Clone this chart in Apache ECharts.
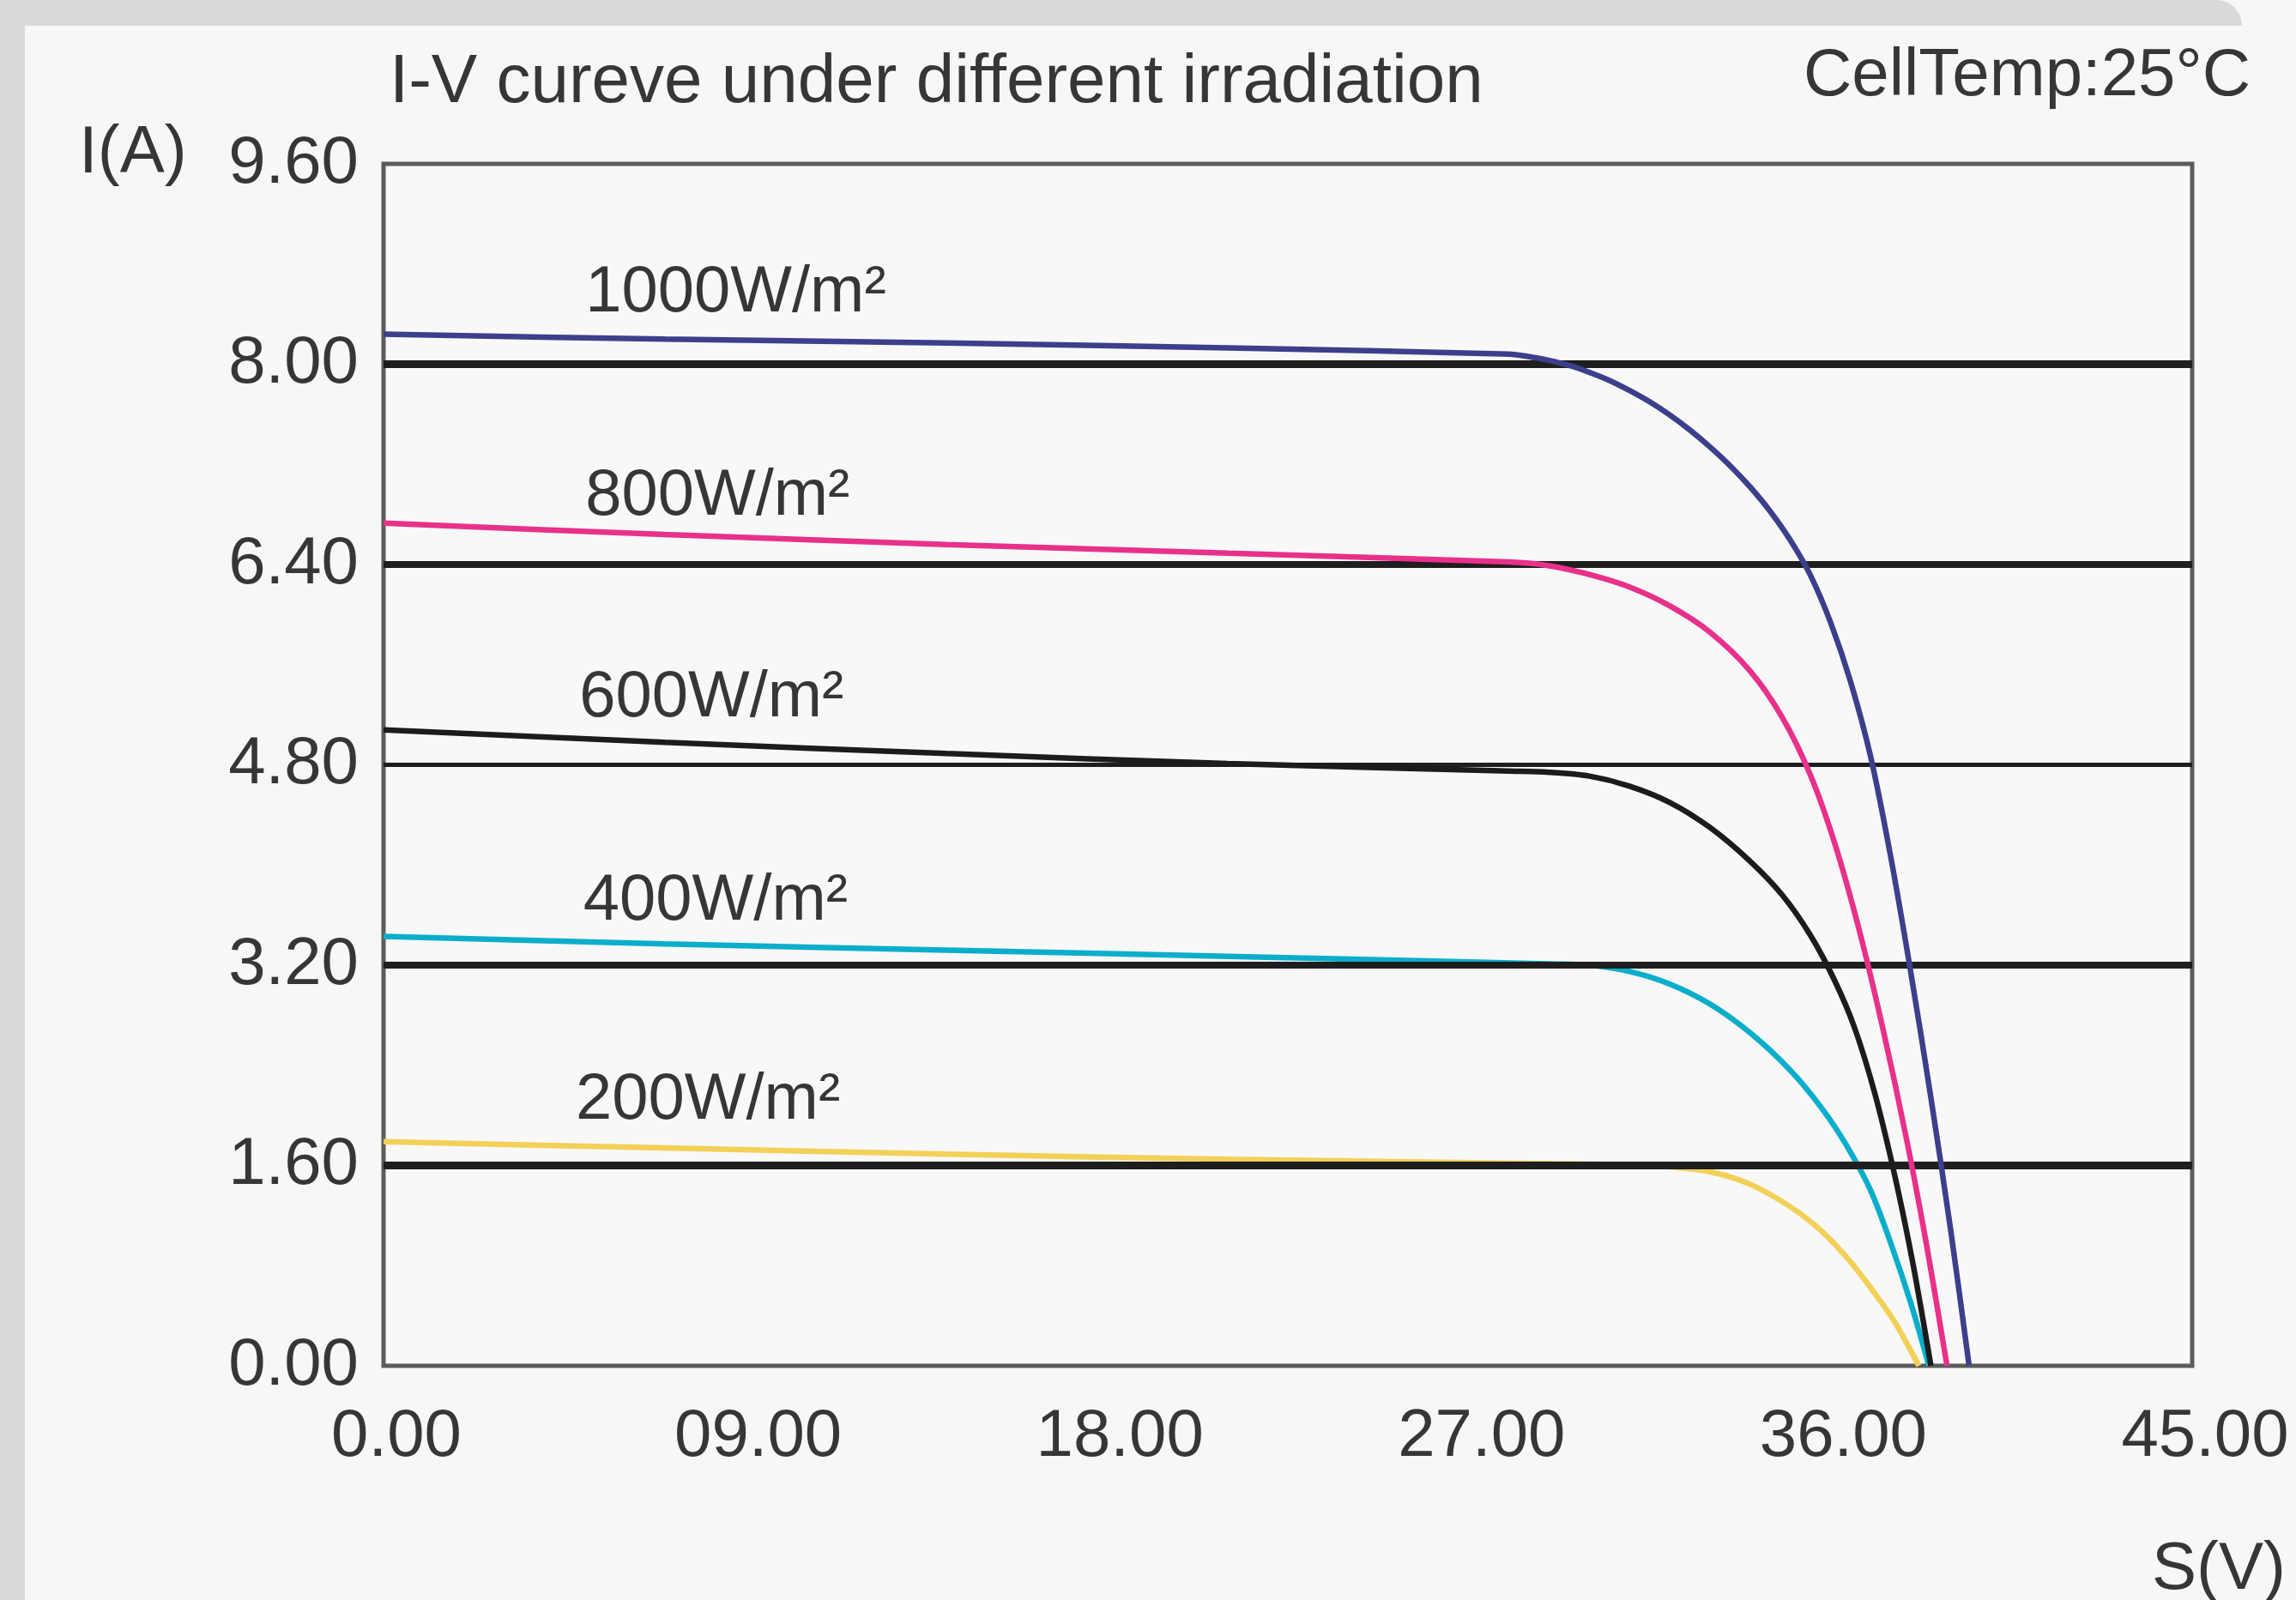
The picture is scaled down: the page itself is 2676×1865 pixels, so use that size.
<!DOCTYPE html>
<html>
<head>
<meta charset="utf-8">
<script src="https://cdn.jsdelivr.net/npm/echarts/dist/echarts.min.js"></script>
<style>
  html, body { margin: 0; padding: 0; background: #f7f7f7; }
  #chart { width: 2676px; height: 1865px; }
</style>
</head>
<body>
<div id="chart"></div>
<script>
// ---- data ----
const seriesNames = ['1000W/m²', '800W/m²', '600W/m²', '400W/m²', '200W/m²'];
const seriesColors = ['#3c3f8b', '#e8318a', '#1c1c1c', '#0aaecb', '#f3d058'];

// [voltage V, current A]
const iv1000 = [[0,8.24],[7,8.20],[14,8.17],[21,8.13],[28,8.08],[28.5,8.06],[29,8.03],[29.5,7.99],[30,7.935],[30.5,7.87],[31,7.79],[31.5,7.70],[32,7.595],[32.5,7.475],[33,7.34],[33.5,7.19],[34,7.02],[34.5,6.825],[35,6.595],[35.5,6.315],[36,5.94],[36.5,5.465],[37,4.865],[37.5,4.065],[38,3.14],[38.5,2.14],[39,1.065],[39.45,0]];
const iv800 = [[0,6.73],[7,6.64],[14,6.56],[21,6.49],[28,6.42],[29,6.39],[30,6.32],[31,6.22],[32,6.07],[33,5.86],[34,5.55],[34.8,5.18],[35.5,4.72],[36.1,4.18],[36.7,3.50],[37.3,2.70],[37.9,1.80],[38.4,0.95],[38.9,0]];
const iv600 = [[0,5.08],[7,4.98],[14,4.89],[21,4.81],[28,4.75],[29,4.74],[30,4.71],[31,4.63],[32,4.50],[33,4.30],[34,4.03],[34.8,3.76],[35.5,3.44],[36.1,3.08],[36.6,2.70],[37.1,2.18],[37.6,1.52],[38.05,0.82],[38.5,0]];
const iv400 = [[0,3.43],[7,3.37],[14,3.32],[21,3.27],[29,3.21],[30,3.20],[31,3.15],[32,3.05],[33,2.89],[34,2.66],[35,2.36],[35.8,2.05],[36.4,1.76],[37.0,1.40],[37.5,0.98],[38.0,0.50],[38.45,0]];
const iv200 = [[0,1.79],[7,1.74],[14,1.69],[21,1.65],[30,1.61],[31,1.605],[32,1.59],[33,1.55],[34,1.45],[35,1.27],[35.8,1.07],[36.5,0.83],[37.1,0.58],[37.6,0.35],[37.95,0.15],[38.2,0]];

// label anchors (V, I) for the irradiation labels
const labelAnchors = [[5.02,8.565],[5.02,6.94],[4.87,5.33],[4.97,3.71],[4.78,2.12]];

const xTickLabels = ['0.00','09.00','18.00','27.00','36.00','45.00'];
const yTickLabels = ['0.00','1.60','3.20','4.80','6.40','8.00','9.60'];
const gridLevels = [1.6, 3.2, 4.8, 6.4, 8.0];

const titleText = 'I-V cureve under different irradiation';
const tempText = 'CellTemp:25°C';
const yName = 'I(A)';
const xName = 'S(V)';

// ---- chart ----
const FONT = "'Liberation Sans', Arial, sans-serif";
const TXT = '#363636';
const curves = [iv1000, iv800, iv600, iv400, iv200];
const gridWidths = [9, 8, 5, 8, 9];

const chart = echarts.init(document.getElementById('chart'), null, { renderer: 'canvas' });

const series = [];
series.push({
  type: 'line', data: [[0,0]], symbol: 'none', lineStyle: { width: 0, opacity: 0 },
  silent: true, z: 1,
  markLine: {
    silent: true, symbol: 'none', label: { show: false },
    data: gridLevels.map((v, i) => ({ yAxis: v, lineStyle: { color: '#1e1e1e', width: gridWidths[i], type: 'solid' } }))
  }
});
curves.forEach((d, i) => {
  series.push({
    name: seriesNames[i], type: 'line', data: d, symbol: 'none',
    smooth: 0.3, z: 3 + (4 - i),
    lineStyle: { color: seriesColors[i], width: 6.5 },
    markPoint: {
      silent: true, symbol: 'circle', symbolSize: 0, animation: false,
      itemStyle: { color: 'rgba(0,0,0,0)', opacity: 1 },
      data: [{ coord: labelAnchors[i], name: seriesNames[i] }],
      label: {
        show: true, position: 'right', distance: 0,
        formatter: seriesNames[i],
        fontSize: 76, fontFamily: FONT, color: '#363636', opacity: 1
      }
    }
  });
});

chart.setOption({
  backgroundColor: '#f7f7f7',
  animation: false,
  grid: { left: 447, top: 191, width: 2108, height: 1401, show: true, borderColor: '#5c5c5c', borderWidth: 5, backgroundColor: '#f8f8f8', containLabel: false },
  xAxis: {
    type: 'value', min: 0, max: 45, interval: 9,
    axisLine: { show: false }, axisTick: { show: false }, splitLine: { show: false },
    axisLabel: { formatter: (v) => xTickLabels[Math.round(v / 9)], fontSize: 78, fontFamily: FONT, color: TXT, margin: 44, padding: [0, 0, 0, 30] }
  },
  yAxis: {
    type: 'value', min: 0, max: 9.6, interval: 1.6,
    axisLine: { show: false }, axisTick: { show: false }, splitLine: { show: false },
    axisLabel: { formatter: (v) => yTickLabels[Math.round(v / 1.6)], fontSize: 78, fontFamily: FONT, color: TXT, margin: 29, padding: [0, 0, 24, 0] }
  },
  graphic: [
    { type: 'rect', shape: { x: 0, y: 0, width: 29, height: 1865 }, style: { fill: '#d9d9d9' }, silent: true, z: -10 },
    { type: 'rect', shape: { x: 0, y: 0, width: 2613, height: 30, r: [0, 30, 0, 0] }, style: { fill: '#d9d9d9' }, silent: true, z: -10 },
    { type: 'text', x: 454, y: 97, style: { text: titleText, fontSize: 80, fontFamily: FONT, fill: TXT, align: 'left', textAlign: 'left', verticalAlign: 'middle', textVerticalAlign: 'middle' } },
    { type: 'text', x: 2623, y: 89, style: { text: tempText, fontSize: 78, fontFamily: FONT, fill: TXT, align: 'right', textAlign: 'right', verticalAlign: 'middle', textVerticalAlign: 'middle' } },
    { type: 'text', x: 92, y: 179, style: { text: yName, fontSize: 78, fontFamily: FONT, fill: TXT, align: 'left', textAlign: 'left', verticalAlign: 'middle', textVerticalAlign: 'middle' } },
    { type: 'text', x: 2664, y: 1830, style: { text: xName, fontSize: 78, fontFamily: FONT, fill: TXT, align: 'right', textAlign: 'right', verticalAlign: 'middle', textVerticalAlign: 'middle' } }
  ],
  series: series
});
</script>
</body>
</html>
